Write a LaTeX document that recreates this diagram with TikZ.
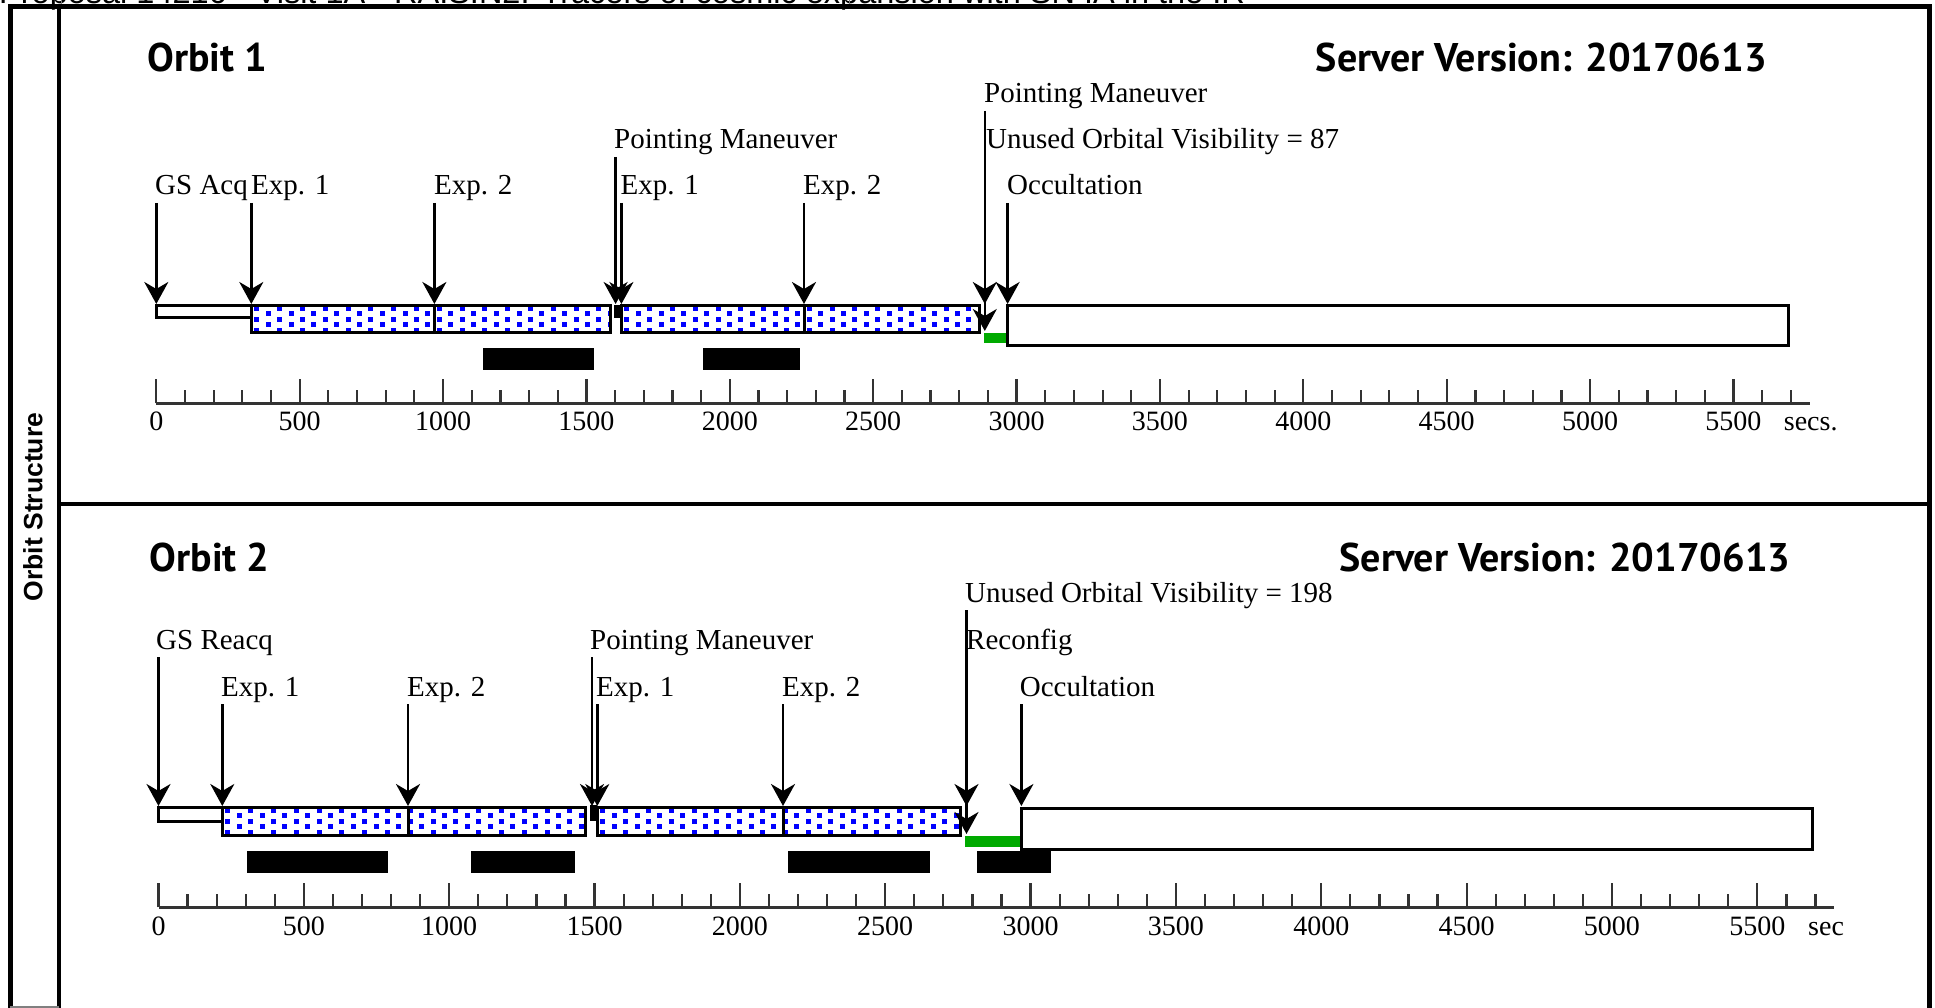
\documentclass[tikz,border=0pt]{standalone}
\usepackage{fontspec}
\setmainfont{Liberation Serif}
\newfontfamily\titlefont{PT Sans}
\newfontfamily\arialfont{Liberation Sans}
\usetikzlibrary{arrows.meta}
\definecolor{dotblue}{RGB}{0,0,255}
\definecolor{mygreen}{RGB}{0,170,0}
\definecolor{axisgray}{RGB}{51,51,51}
\tikzset{
  lbl/.style={anchor=base west, inner sep=0pt, font=\fontsize{29}{33}\selectfont},
  ticklbl/.style={anchor=base, inner sep=0pt, font=\fontsize{28}{32}\selectfont},
  unitlbl/.style={anchor=base west, inner sep=0pt, font=\fontsize{28}{32}\selectfont},
  ttl/.style={inner sep=0pt, font=\titlefont\bfseries\fontsize{40}{46}\selectfont},
  evarrow/.style={line width=2.6pt, -{Stealth[length=22pt,width=24pt,inset=7pt]}},
  barline/.style={line width=3pt, draw=black},
  axisline/.style={line width=3pt, draw=axisgray},
  tickline/.style={line width=2.2pt, draw=axisgray},
  frameline/.style={line width=5pt, draw=black, line join=miter},
}
% dotted exposure bar: x1 x2 ytop ybot
\newcommand\dotbar[4]{%
  \fill[white] (#1,#3) rectangle (#2,#4);
  \begin{scope}
    \clip (#1,#3) rectangle (#2,#4);
    \foreach \i in {0,...,33} {
      \foreach \j in {0,1,2} {
        \pgfmathsetmacro\xx{#1+3+\i*11.4}
        \pgfmathsetmacro\yy{#3+0.5+\j*11+mod(\i,2)*5.5}
        \fill[dotblue] (\xx,\yy) rectangle ++(5,5);
      }
    }
  \end{scope}
  \draw[barline] (#1,#3) rectangle (#2,#4);
}
% event: name, arrow x, text x, baseline, arrow end y, text
\newcommand\event[6]{%
  \node[lbl] (#1) at (#3,#4) {#6};
  \coordinate (#1s) at (#2,#4+8);
  \coordinate (#1e) at (#2,#5);
  \draw[evarrow] (#1s) -- (#1e);
}
\begin{document}
\begin{tikzpicture}[x=1pt,y=-1pt]
\useasboundingbox (0,0) rectangle (1935,1008);
\fill[white] (0,0) rectangle (1935,1008);

% header text (cut off at top)
\node[anchor=base west, inner sep=0pt, font=\arialfont\fontsize{32.5}{36}\selectfont] (hdr) at (-1,4)
  {Proposal 14216 - Visit 1A - RAISIN2: Tracers of cosmic expansion with SN IA in the IR};
\draw[gray, line width=1pt] (61,0) -- (61,5);
\draw[gray, line width=1pt] (849,0) -- (849,5);

% frame
\draw[frameline] (10,1010) -- (10,7) -- (1929,7) -- (1929,1010);
\draw[line width=4.5pt] (59,7) -- (59,1010);
\draw[line width=4pt] (59,504) -- (1929,504);
\draw[gray, line width=1.5pt] (10,1007) -- (59,1007);
\node[rotate=90, inner sep=0pt, font=\arialfont\bfseries\fontsize{26.5}{30}\selectfont] (side) at (33,507) {Orbit Structure};

% ================= ORBIT 1 =================
\node[ttl, anchor=base west] (o1title) at (147,72) {Orbit 1};
\node[ttl, anchor=base east] (o1ver) at (1767,72) {Server Version: 20170613};

% bars
\draw[barline, fill=white] (156.3,305) rectangle (251.3,317);
\dotbar{251.3}{610.3}{305}{332}
\draw[barline] (434.4,305) -- (434.4,332);
\fill[black] (614.3,305) rectangle (621.4,318);
\dotbar{621.4}{979.5}{305}{332}
\draw[barline] (804,305) -- (804,332);
\fill[mygreen] (984,333) rectangle (1007,343);
\draw[barline, fill=white] (1007.6,305) rectangle (1788.4,345);
\fill[black] (482.5,348) rectangle (593.6,370);
\fill[black] (703,348) rectangle (800,370);

% events
\event{a1}{156.3}{155}{195}{304}{GS Acq}
\event{a2}{251.3}{251}{195}{304}{Exp. 1}
\event{a3}{434.4}{434}{195}{304}{Exp. 2}
\event{a4}{615.6}{614}{149}{304}{Pointing Maneuver}
\event{a5}{621.4}{620.5}{195}{304}{Exp. 1}
\event{a6}{804}{803}{195}{304}{Exp. 2}
\event{a7}{984.8}{984}{103}{331}{Pointing Maneuver}
\event{a8}{984.8}{986}{149}{304}{Unused Orbital Visibility = 87}
\event{a9}{1007.6}{1007}{195}{304}{Occultation}

% axis
\draw[axisline] (156.3,403) -- (1809.5,403);
\foreach \t in {0,100,...,5700} {
  \pgfmathsetmacro\xx{156.3+0.28676*\t}
  \draw[tickline] (\xx,403) -- (\xx,390);
}
\foreach \t in {0,500,...,5500} {
  \pgfmathsetmacro\xx{156.3+0.28676*\t}
  \draw[tickline] (\xx,403) -- (\xx,379);
  \node[ticklbl] (o1t\t) at (\xx,430) {\t};
}
\node[unitlbl] (o1unit) at (1783.7,430) {secs.};

% ================= ORBIT 2 =================
\node[ttl, anchor=base west] (o2title) at (149.6,571) {Orbit 2};
\node[ttl, anchor=base east] (o2ver) at (1790.7,571) {Server Version: 20170613};

% bars
\draw[barline, fill=white] (158.5,807) rectangle (222.3,821);
\dotbar{222.3}{585.7}{807}{835}
\draw[barline] (408,807) -- (408,835);
\fill[black] (590,805) rectangle (597.3,821);
\dotbar{597.3}{960.7}{807}{835}
\draw[barline] (783,807) -- (783,835);
\fill[mygreen] (965,836) rectangle (1020.5,847);
\draw[barline, fill=white] (1021.4,808) rectangle (1812.7,849);
\fill[black] (246.9,851) rectangle (388.4,873);
\fill[black] (471,851) rectangle (574.6,873);
\fill[black] (788,851) rectangle (929.5,873);
\fill[black] (977,851) rectangle (1051,873);

% events
\event{b1}{158.5}{156}{649}{806}{GS Reacq}
\event{b2}{222.3}{221}{696}{806}{Exp. 1}
\event{b3}{408}{407}{696}{806}{Exp. 2}
\event{b4}{592}{590}{649}{806}{Pointing Maneuver}
\event{b5}{597.3}{596}{696}{806}{Exp. 1}
\event{b6}{783}{782}{696}{806}{Exp. 2}
\event{b7}{966.5}{965}{602}{806}{Unused Orbital Visibility = 198}
\event{b8}{966.5}{966}{649}{834}{Reconfig}
\event{b9}{1021.4}{1019.6}{696}{806}{Occultation}

% axis
\draw[axisline] (158.5,907) -- (1833.8,907);
\foreach \t in {0,100,...,5700} {
  \pgfmathsetmacro\xx{158.5+0.2907*\t}
  \draw[tickline] (\xx,907) -- (\xx,894);
}
\foreach \t in {0,500,...,5500} {
  \pgfmathsetmacro\xx{158.5+0.2907*\t}
  \draw[tickline] (\xx,907) -- (\xx,883);
  \node[ticklbl] (o2t\t) at (\xx,935) {\t};
}
\node[unitlbl] (o2unit) at (1808,935) {sec};
\end{tikzpicture}
\end{document}
